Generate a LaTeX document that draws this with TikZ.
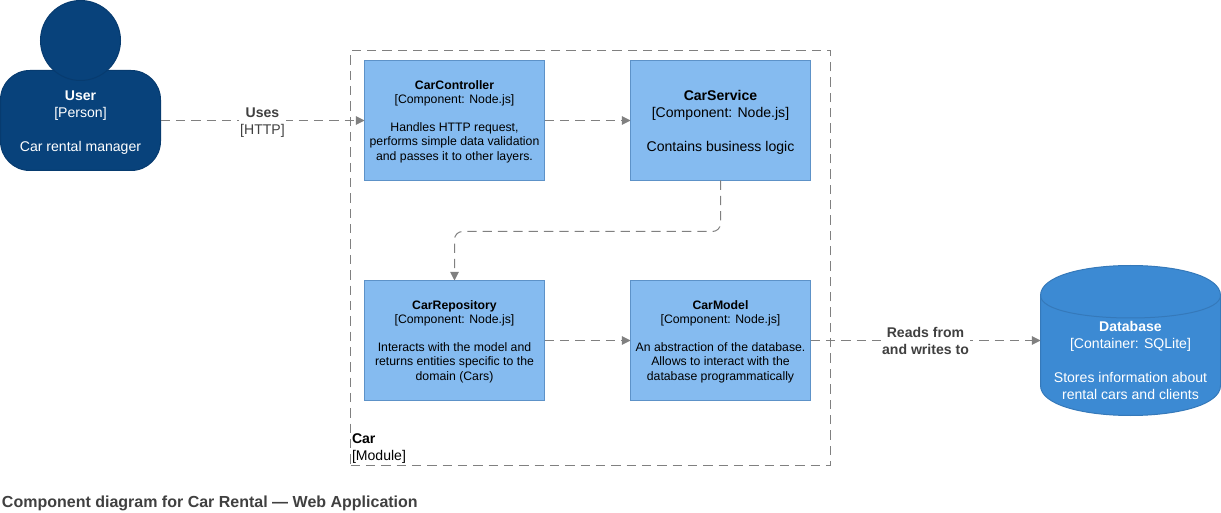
\documentclass[tikz,border=0pt]{standalone}
\usepackage{fontspec}
\setmainfont{Liberation Sans}
\usetikzlibrary{arrows.meta,positioning}
\definecolor{personblue}{HTML}{08427B}
\definecolor{persondark}{HTML}{073B6F}
\definecolor{compblue}{HTML}{85BBF0}
\definecolor{compdark}{HTML}{5D92C8}
\definecolor{dbblue}{HTML}{3C8AD3}
\definecolor{dbdark}{HTML}{3579BA}
\definecolor{linegray}{HTML}{808080}
\definecolor{labelgray}{HTML}{404040}
\newcommand{\smallfont}{\fontsize{9.2}{10.6}\selectfont}
\newcommand{\bigfont}{\fontsize{10.55}{12.75}\selectfont}
\newcommand{\liftsmall}{\rule{0pt}{8.2pt}}
\newcommand{\liftbig}{\rule{0pt}{9.8pt}}
\begin{document}
\begin{tikzpicture}[x=.75pt, y=-.75pt, auto, line width=.75pt, node distance=199.5pt]
\tikzstyle{every node}=[inner sep=0pt,outer sep=0pt,align=center]
\tikzstyle{comp}=[rectangle,draw=compdark,fill=compblue,text=black,minimum width=135pt,minimum height=90pt,font=\smallfont]
\tikzstyle{compbig}=[comp,font=\bigfont]
\tikzstyle{rel}=[color=linegray,dash pattern=on 7pt off 4.5pt,-{Triangle[length=6.5pt,width=6.5pt]}]
\tikzstyle{rellabel}=[fill=white,text=labelgray,font=\bigfont,inner xsep=1pt,swap,pos=.5,anchor=center]
\useasboundingbox (0,0) rectangle (1221,513);
% boundary
\node[draw=linegray,dash pattern=on 7pt off 4.5pt,minimum width=360pt,minimum height=311.25pt] (car) at (590.5,258) {};
\node[anchor=south west,align=left,font=\bigfont] (carlabel) at (352,463) {\textbf{Car}\\{}[Module]};
% components
\node[comp]    (ctrl) at (454.5,120.5) {\liftsmall\textbf{CarController}\\{}[Component: Node.js]\\[10.6pt]Handles HTTP request,\\performs simple data validation\\and passes it to other layers.};
\node[compbig] (svc)[right of=ctrl]    {\liftbig\textbf{CarService}\\{}[Component: Node.js]\\[12.75pt]Contains business logic};
\node[comp]    (repo)[below of=ctrl,node distance=165pt] {\liftsmall\textbf{CarRepository}\\{}[Component: Node.js]\\[10.6pt]Interacts with the model and\\returns entities specific to the\\domain (Cars)};
\node[comp]    (model)[right of=repo]  {\liftsmall\textbf{CarModel}\\{}[Component: Node.js]\\[10.6pt]An abstraction of the database.\\Allows to interact with the\\database programmatically};
% person
\node[draw=persondark,fill=personblue,rectangle,rounded corners=22pt,minimum width=120pt,minimum height=75pt,text=white,font=\bigfont] (user) at (80.5,120.5) {\liftbig\textbf{User}\\{}[Person]\\[12.75pt]Car rental manager};
\node[draw=persondark,fill=personblue,circle,minimum size=60pt] (head) at (80.5,40.5) {};
% database
\draw[draw=dbdark,fill=dbblue] (1040.5,295.5) .. controls (1040.5,255.5) and (1220.5,255.5) .. (1220.5,295.5) -- (1220.5,385.5) .. controls (1220.5,425.5) and (1040.5,425.5) .. (1040.5,385.5) -- cycle;
\draw[draw=dbdark] (1040.5,295.5) .. controls (1040.5,325.5) and (1220.5,325.5) .. (1220.5,295.5);
\node[minimum width=135pt,minimum height=112.5pt] (db) at (1130.5,340.5) {};
\node[text=white,font=\bigfont] (dblabel) at (1130.5,360.5) {\textbf{Database}\\{}[Container: SQLite]\\[12.75pt]Stores information about\\rental cars and clients};
% relations
\path[rel]
(user.east) edge node[rellabel,yshift=-1.7pt]{\textbf{Uses}\\{}[HTTP]} (ctrl.west)
(ctrl.east) edge (svc.west)
(repo.east) edge (model.west)
(model.east) edge node[rellabel]{\textbf{Reads from}\\\textbf{and writes to}} (db.west);
\draw[rel,rounded corners=6pt] (svc.south) -- ++(0,51) -| (repo.north);
% title
\node[anchor=west,text=labelgray,font=\fontsize{12}{14}\selectfont\bfseries] (title) at (2,503) {Component diagram for Car Rental — Web Application};
\end{tikzpicture}
\end{document}
